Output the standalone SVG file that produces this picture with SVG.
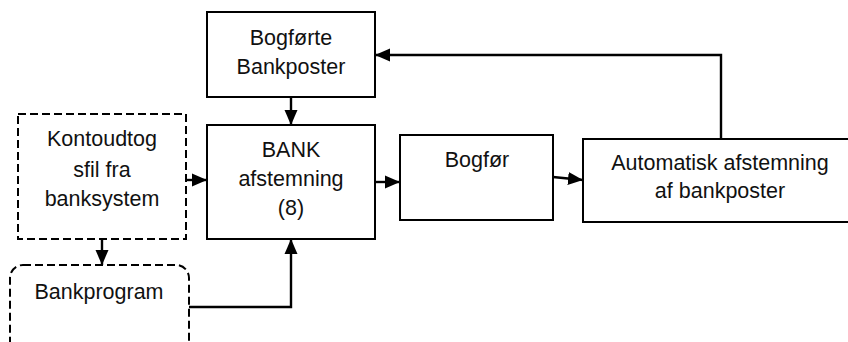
<svg xmlns="http://www.w3.org/2000/svg" width="848" height="342" viewBox="0 0 848 342">
<style>
.box{fill:#fff;stroke:#000;stroke-width:2}
.dash{fill:#fff;stroke:#000;stroke-width:2;stroke-dasharray:8,4}
.con{fill:none;stroke:#000;stroke-width:2.4}
text{font-family:"Liberation Sans",Arial,sans-serif;font-size:21.5px;fill:#111;text-anchor:middle}
</style>
<defs>
<marker id="ah" markerUnits="userSpaceOnUse" markerWidth="16" markerHeight="16" viewBox="0 0 16 16" refX="15" refY="8" orient="auto">
<path d="M0,1.5 L15,8 L0,14.5 Z" fill="#000"/>
</marker>
</defs>
<rect width="848" height="342" fill="#fff"/>
<g id="bogforte">
<rect class="box" x="207" y="12" width="168" height="85"/>
<text x="291" y="45">Bogførte</text>
<text x="291" y="74">Bankposter</text>
</g>
<g id="bank">
<rect class="box" x="207" y="125" width="168" height="114"/>
<text x="291" y="157">BANK</text>
<text x="291" y="186">afstemning</text>
<text x="291" y="215">(8)</text>
</g>
<g id="bogfor">
<rect class="box" x="400" y="135" width="153" height="85"/>
<text x="477" y="167">Bogfør</text>
</g>
<g id="automatisk">
<rect class="box" x="583" y="139" width="280" height="83"/>
<text x="720" y="170">Automatisk afstemning</text>
<text x="720" y="198">af bankposter</text>
</g>
<g id="kontoudtog">
<rect class="dash" x="18" y="114" width="168" height="125"/>
<text x="102" y="146">Kontoudtog</text>
<text x="102" y="177">sfil fra</text>
<text x="102" y="206">banksystem</text>
</g>
<g id="bankprogram">
<rect class="dash" x="10" y="265" width="179" height="110" rx="13" ry="13"/>
<text x="99" y="299">Bankprogram</text>
</g>
<g id="connectors">
<line class="con" x1="291" y1="97" x2="291" y2="125" marker-end="url(#ah)"/>
<line class="con" x1="186" y1="180" x2="207" y2="180" marker-end="url(#ah)"/>
<line class="con" x1="102" y1="239" x2="102" y2="265" marker-end="url(#ah)"/>
<polyline class="con" points="189,307 291,307 291,239" marker-end="url(#ah)"/>
<line class="con" x1="375" y1="182" x2="400" y2="182" marker-end="url(#ah)"/>
<line class="con" x1="553" y1="177" x2="583" y2="180" marker-end="url(#ah)"/>
<polyline class="con" points="721,139 721,55 375,55" marker-end="url(#ah)"/>
</g>
</svg>
